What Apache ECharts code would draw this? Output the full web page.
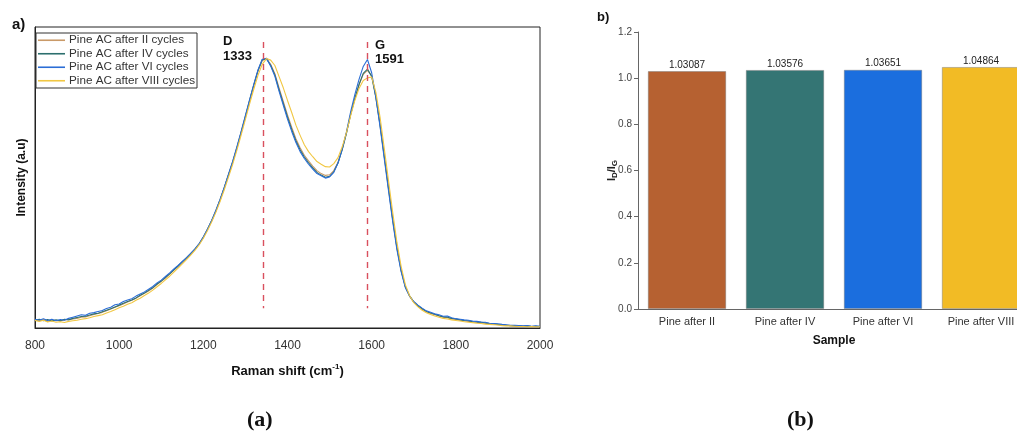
<!DOCTYPE html>
<html>
<head>
<meta charset="utf-8">
<script src="https://cdn.jsdelivr.net/npm/echarts@6/dist/echarts.min.js"></script>
<style>
  html, body { margin: 0; padding: 0; background: #fff; }
  #chart { width: 1017px; height: 438px; }
</style>
</head>
<body>
<div id="chart"></div>
<script>
// Raman shift (cm-1)
var ramanShift = [
  800, 810, 820, 830, 840, 850, 860, 870, 880, 890,
  900, 910, 920, 930, 940, 950, 960, 970, 980, 990,
  1000, 1010, 1020, 1030, 1040, 1050, 1060, 1070, 1080, 1090,
  1100, 1110, 1120, 1130, 1140, 1150, 1160, 1170, 1180, 1190,
  1200, 1210, 1220, 1230, 1240, 1250, 1260, 1270, 1280, 1290,
  1300, 1310, 1320, 1330, 1340, 1350, 1360, 1370, 1380, 1390,
  1400, 1410, 1420, 1430, 1440, 1450, 1460, 1470, 1480, 1490,
  1500, 1510, 1520, 1530, 1540, 1550, 1560, 1570, 1580, 1590,
  1600, 1610, 1620, 1630, 1640, 1650, 1660, 1670, 1680, 1690,
  1700, 1710, 1720, 1730, 1740, 1750, 1760, 1770, 1780, 1790,
  1800, 1810, 1820, 1830, 1840, 1850, 1860, 1870, 1880, 1890,
  1900, 1910, 1920, 1930, 1940, 1950, 1960, 1970, 1980, 1990,
  2000
];

// intensity (a.u.)
var pineII = [
  2.7, 2.4, 2.8, 2.2, 2.6, 2.5, 2.3, 2.7, 2.8, 3.0,
  3.2, 3.6, 3.7, 4.1, 4.5, 4.8, 5.2, 5.7, 6.3, 6.9,
  7.4, 8.0, 8.6, 9.2, 9.9, 10.7, 11.5, 12.3, 13.3, 14.4,
  15.5, 16.6, 17.9, 19.2, 20.5, 21.9, 23.2, 24.6, 26.1, 27.9,
  30.1, 32.8, 35.6, 38.9, 42.6, 46.6, 50.9, 55.2, 59.9, 65.0,
  70.1, 75.4, 80.6, 85.4, 88.8, 89.6, 87.6, 84.5, 79.8, 75.3,
  70.8, 66.7, 62.9, 59.9, 57.4, 55.5, 53.8, 52.3, 51.3, 50.7,
  50.9, 52.3, 55.1, 59.5, 64.8, 71.0, 76.3, 80.8, 84.3, 85.6,
  83.8, 76.9, 67.8, 57.4, 46.9, 36.4, 26.9, 19.3, 13.8, 10.6,
  8.6, 7.3, 6.2, 5.4, 4.8, 4.4, 4.0, 3.6, 3.4, 3.0,
  2.8, 2.6, 2.4, 2.2, 2.0, 1.9, 1.7, 1.6, 1.4, 1.3,
  1.1, 1.0, 0.9, 0.8, 0.7, 0.6, 0.6, 0.5, 0.5, 0.4,
  0.5
];
var pineIV = [
  2.6, 2.9, 2.4, 2.8, 2.3, 2.7, 2.4, 2.9, 2.7, 3.2,
  3.5, 3.8, 3.9, 4.3, 4.7, 4.9, 5.4, 5.9, 6.4, 7.0,
  7.6, 8.2, 8.8, 9.3, 10.0, 10.9, 11.6, 12.5, 13.4, 14.6,
  15.6, 16.8, 18.0, 19.3, 20.6, 22.0, 23.3, 24.7, 26.1, 27.9,
  30.1, 32.8, 35.7, 39.0, 42.7, 46.7, 51.0, 55.3, 60.0, 65.1,
  70.3, 75.7, 80.8, 85.6, 89.1, 89.4, 87.3, 84.1, 79.2, 74.6,
  70.1, 66.0, 62.2, 59.2, 56.8, 54.9, 53.2, 51.7, 50.8, 50.1,
  50.4, 51.9, 54.8, 59.2, 64.6, 70.9, 76.2, 80.9, 84.6, 86.0,
  83.6, 76.5, 67.3, 56.9, 46.4, 36.0, 26.6, 19.1, 13.7, 10.7,
  8.7, 7.4, 6.4, 5.5, 5.0, 4.6, 4.1, 3.7, 3.6, 3.2,
  3.0, 2.7, 2.5, 2.4, 2.1, 2.0, 1.9, 1.7, 1.5, 1.4,
  1.2, 1.1, 0.9, 0.8, 0.8, 0.7, 0.6, 0.7, 0.5, 0.6,
  0.5
];
var pineVI = [
  2.9, 2.6, 3.1, 2.5, 2.9, 2.4, 2.8, 2.6, 3.2, 3.6,
  4.0, 4.4, 4.2, 4.9, 5.1, 5.5, 5.8, 6.5, 6.9, 7.7,
  8.0, 8.8, 9.3, 9.7, 10.6, 11.3, 12.0, 12.9, 13.8, 15.0,
  15.9, 17.1, 18.3, 19.6, 20.8, 22.1, 23.4, 24.8, 26.3, 28.0,
  30.3, 32.9, 35.8, 39.2, 42.8, 46.9, 51.2, 55.5, 60.3, 65.4,
  70.6, 75.9, 81.0, 85.8, 89.3, 89.6, 87.0, 83.6, 78.6, 74.0,
  69.4, 65.3, 61.6, 58.6, 56.3, 54.4, 52.8, 51.3, 50.6, 49.8,
  50.2, 51.7, 54.8, 59.4, 65.1, 71.8, 77.5, 82.6, 86.9, 89.2,
  84.8, 76.6, 66.8, 56.2, 45.6, 35.3, 26.0, 18.7, 13.4, 10.6,
  8.8, 7.6, 6.6, 5.7, 5.2, 4.7, 4.4, 3.9, 4.0, 3.4,
  3.1, 2.9, 2.7, 2.6, 2.3, 2.2, 2.0, 1.9, 1.6, 1.5,
  1.4, 1.2, 1.1, 0.9, 0.9, 0.8, 0.7, 0.8, 0.6, 0.7,
  0.6
];
var pineVIII = [
  2.5, 2.2, 2.6, 2.0, 2.3, 1.9, 2.1, 1.8, 2.2, 2.4,
  2.6, 2.9, 3.1, 3.4, 3.8, 4.1, 4.4, 5.0, 5.5, 6.1,
  6.7, 7.2, 7.9, 8.4, 9.2, 9.9, 10.8, 11.6, 12.6, 13.7,
  14.8, 16.0, 17.2, 18.6, 19.9, 21.3, 22.7, 24.2, 25.8, 27.6,
  29.8, 32.4, 35.3, 38.5, 42.1, 46.0, 50.2, 54.5, 59.2, 64.2,
  69.3, 74.5, 79.4, 84.0, 87.6, 89.5, 89.0, 87.2, 83.5, 79.8,
  75.6, 71.6, 67.4, 64.0, 60.9, 58.6, 56.9, 55.3, 54.4, 53.6,
  53.5, 54.6, 56.6, 60.2, 64.9, 70.5, 75.6, 79.6, 82.2, 83.1,
  83.4, 78.3, 70.0, 59.6, 49.0, 38.4, 28.5, 20.5, 14.4, 10.8,
  8.4, 7.0, 5.9, 5.1, 4.5, 4.0, 3.6, 3.2, 3.0, 2.7,
  2.5, 2.3, 2.1, 1.9, 1.8, 1.6, 1.5, 1.3, 1.2, 1.1,
  1.0, 0.8, 0.7, 0.7, 0.6, 0.5, 0.5, 0.4, 0.5, 0.4,
  0.4
];

var spectraNames = ['Pine AC after II cycles', 'Pine AC after IV cycles', 'Pine AC after VI cycles', 'Pine AC after VIII cycles'];
var spectraColors = ['#c99a68', '#2c6f6e', '#2b6dd6', '#f1c743'];
var peakLines = [1343, 1590];

// b) ID/IG ratio
var samples = ['Pine after II', 'Pine after IV', 'Pine after VI', 'Pine after VIII'];
var ratioIdIg = [1.03087, 1.03576, 1.03651, 1.04864];
var barColors = ['#b66131', '#347574', '#1b6ede', '#f2bb25'];
var ratioTicks = [0, 0.2, 0.4, 0.6, 0.8, 1.0, 1.2];

var FONT = '"Liberation Sans", Arial, sans-serif';
var SERIF = '"Liberation Serif", "DejaVu Serif", serif';

var chart = echarts.init(document.getElementById('chart'));

var spectra = [pineII, pineIV, pineVI, pineVIII];
var lineSeries = spectra.map(function (vals, k) {
  var s = {
    name: spectraNames[k],
    type: 'line',
    xAxisIndex: 0,
    yAxisIndex: 0,
    symbol: 'none',
    smooth: false,
    animation: false,
    lineStyle: { width: 1.1, color: spectraColors[k] },
    itemStyle: { color: spectraColors[k] },
    data: ramanShift.map(function (x, i) { return [x, vals[i]]; })
  };
  if (k === 3) {
    s.markLine = {
      silent: true,
      symbol: 'none',
      label: { show: false },
      lineStyle: { color: '#d9505e', type: [6, 5], width: 1.4, opacity: 1 },
      data: peakLines.map(function (p) {
        return [{ coord: [p, 95] }, { coord: [p, 6.6] }];
      })
    };
  }
  return s;
});

function titleText(text, left, top, size) {
  return { text: text, left: left, top: top, padding: 0,
    textStyle: { fontFamily: FONT, fontSize: size, fontWeight: 'bold', color: '#111' } };
}

var captionRich = {
  p: { fontFamily: SERIF, fontSize: 22, color: '#111' },
  b: { fontFamily: SERIF, fontSize: 22, fontWeight: 'bold', color: '#111' }
};

var option = {
  backgroundColor: '#fff',
  animation: false,
  title: [
    titleText('a)', 12, 17, 15),
    titleText('b)', 597, 11, 13),
    titleText('D', 223, 35, 13),
    titleText('1333', 223, 50, 13),
    titleText('G', 375, 39, 13),
    titleText('1591', 375, 53, 13),
    { text: '{p|(}{b|a}{p|)}', left: 247, top: 409, padding: 0, textStyle: { rich: captionRich } },
    { text: '{p|(}{b|b}{p|)}', left: 787, top: 409, padding: 0, textStyle: { rich: captionRich } }
  ],
  legend: {
    data: spectraNames,
    orient: 'vertical',
    left: 36,
    top: 33,
    padding: [1, 2, 1, 2],
    itemGap: 1,
    itemWidth: 27,
    itemHeight: 1.6,
    icon: 'rect',
    backgroundColor: '#fff',
    borderColor: '#333',
    borderWidth: 1,
    borderRadius: 0,
    textStyle: { fontFamily: FONT, fontSize: 11.7, color: '#333', lineHeight: 12.5, padding: [0, 0, 0, -1] }
  },
  grid: [
    { left: 35, top: 27, width: 505, height: 301, show: true, borderColor: '#222', borderWidth: 1, backgroundColor: 'transparent', outerBoundsMode: 'none' },
    { left: 638, top: 32, width: 392, height: 277, outerBoundsMode: 'none' }
  ],
  xAxis: [
    {
      gridIndex: 0,
      type: 'value',
      min: 800,
      max: 2000,
      interval: 200,
      name: '{t|Raman shift (cm}{s|-1}{t|)}',
      nameLocation: 'middle',
      nameGap: 35,
      nameTextStyle: { rich: {
        t: { fontFamily: FONT, fontSize: 13, fontWeight: 'bold', color: '#111', lineHeight: 16 },
        s: { fontFamily: FONT, fontSize: 8, fontWeight: 'bold', color: '#111', verticalAlign: 'top', lineHeight: 10 }
      } },
      axisLine: { show: true, lineStyle: { color: '#222', width: 1 } },
      axisTick: { show: false },
      splitLine: { show: false },
      axisLabel: { fontFamily: FONT, fontSize: 12, color: '#333', margin: 12, formatter: function (v) { return String(v); } }
    },
    {
      gridIndex: 1,
      type: 'category',
      data: samples,
      name: 'Sample',
      nameLocation: 'middle',
      nameGap: 26,
      nameTextStyle: { fontFamily: FONT, fontSize: 12, fontWeight: 'bold', color: '#111' },
      axisLine: { lineStyle: { color: '#666', width: 1 } },
      axisTick: { alignWithLabel: true, length: 4, lineStyle: { color: '#666' } },
      axisLabel: { fontFamily: FONT, fontSize: 11, color: '#333', margin: 7 }
    }
  ],
  yAxis: [
    {
      gridIndex: 0,
      type: 'value',
      min: 0,
      max: 100,
      name: 'Intensity (a.u)',
      nameLocation: 'middle',
      nameGap: 7,
      nameTextStyle: { fontFamily: FONT, fontSize: 12, fontWeight: 'bold', color: '#111' },
      axisLine: { show: true, lineStyle: { color: '#222' } },
      axisTick: { show: false },
      axisLabel: { show: false },
      splitLine: { show: false }
    },
    {
      gridIndex: 1,
      type: 'value',
      min: ratioTicks[0],
      max: ratioTicks[ratioTicks.length - 1],
      interval: 0.2,
      name: '{t|I}{s|D}{t|/I}{s|G}',
      nameLocation: 'middle',
      nameGap: 19,
      nameMoveOverlap: false,
      nameTextStyle: { rich: {
        t: { fontFamily: FONT, fontSize: 11, fontWeight: 'bold', color: '#222', lineHeight: 14 },
        s: { fontFamily: FONT, fontSize: 8, fontWeight: 'bold', color: '#222', verticalAlign: 'bottom', lineHeight: 10 }
      } },
      axisLine: { show: true, lineStyle: { color: '#666', width: 1 } },
      axisTick: { show: true, length: 4, lineStyle: { color: '#666' } },
      axisLabel: {
        fontFamily: FONT, fontSize: 10, color: '#444', margin: 6,
        formatter: function (v) { return v.toFixed(1); }
      },
      splitLine: { show: false }
    }
  ],
  series: lineSeries.concat([
    {
      type: 'bar',
      xAxisIndex: 1,
      yAxisIndex: 1,
      barCategoryGap: '20%',
      data: ratioIdIg.map(function (v, i) {
        return { value: v, itemStyle: { color: barColors[i], borderColor: 'rgba(120,120,120,0.45)', borderWidth: 1 } };
      }),
      label: { show: true, position: 'top', distance: 1, fontFamily: FONT, fontSize: 10, color: '#222' }
    }
  ])
};

chart.setOption(option);
</script>
</body>
</html>
